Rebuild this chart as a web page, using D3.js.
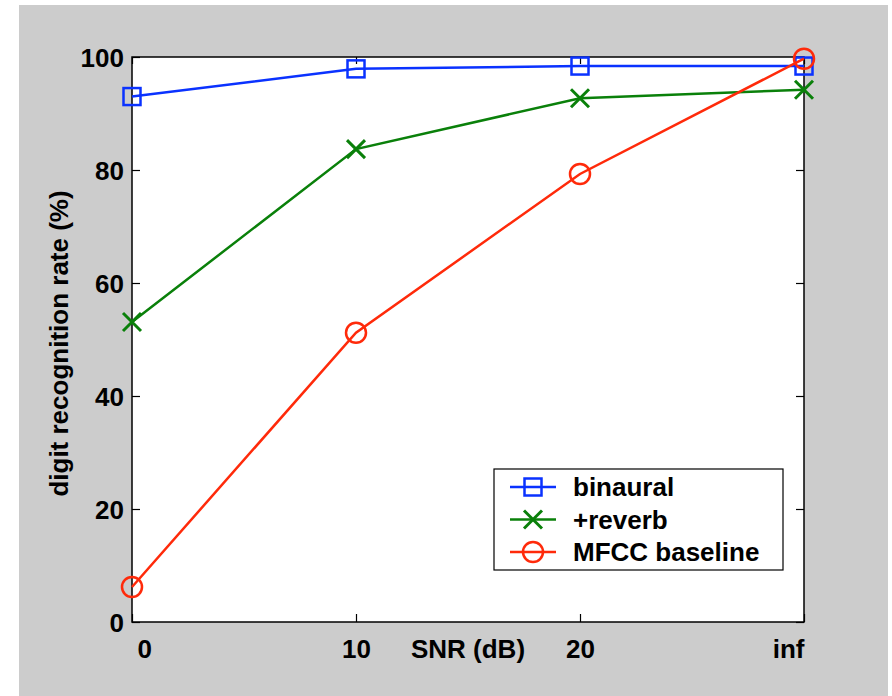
<!DOCTYPE html>
<html>
<head>
<meta charset="utf-8">
<script src="https://cdn.jsdelivr.net/npm/d3@7"></script>
<style>
  body { margin: 0; background: #fff; }
  text { font-family: "Liberation Sans", Arial, sans-serif; font-weight: bold; font-size: 26px; fill: #000; }
</style>
</head>
<body>
<div id="chart"></div>
<script>
// data
const snr = ["0", "10", "20", "inf"];
const binaural = [93.0, 97.9, 98.4, 98.4];
const reverb = [53.1, 83.7, 92.7, 94.2];
const mfcc = [6.2, 51.2, 79.3, 99.7];
const yTicks = [0, 20, 40, 60, 80, 100];
const seriesNames = ["binaural", "+reverb", "MFCC baseline"];

const W = 892, H = 696;
const margin = {top: 57, right: 88, bottom: 74, left: 132};
const width = W - margin.left - margin.right,
      height = H - margin.top - margin.bottom;

const svg = d3.select("#chart").append("svg")
    .attr("width", W)
    .attr("height", H);

// grey figure background
svg.append("rect")
    .attr("x", 19).attr("y", 5)
    .attr("width", 869).attr("height", 691)
    .attr("fill", "#cccccc");

const g = svg.append("g")
    .attr("transform", `translate(${margin.left},${margin.top})`);

g.append("rect")
    .attr("width", width).attr("height", height)
    .attr("fill", "#fff");

const x = d3.scalePoint().domain(snr).range([0, width]);
const y = d3.scaleLinear().domain([0, 100]).range([height, 0]);

// axes, ticks pointing inwards like matlab
const styleAxis = sel => {
  sel.select(".domain").remove();
  sel.selectAll(".tick line").attr("stroke", "#000").attr("stroke-width", 1.2);
  sel.selectAll("text").attr("font-size", null).attr("font-family", null);
};

g.append("g")
    .call(d3.axisLeft(y).tickValues(yTicks).tickSizeInner(-8).tickSizeOuter(0).tickPadding(8))
    .call(styleAxis)
    .selectAll("text").attr("dy", "0.36em");

g.append("g")
    .attr("transform", `translate(${width},0)`)
    .call(d3.axisRight(y).tickValues(yTicks).tickSizeInner(-8).tickSizeOuter(0).tickFormat(""))
    .call(styleAxis);

g.append("g")
    .call(d3.axisTop(x).tickSizeInner(-7).tickSizeOuter(0).tickFormat(""))
    .call(styleAxis);

const xAxis = g.append("g")
    .attr("transform", `translate(0,${height})`)
    .call(d3.axisBottom(x).tickSizeInner(-8).tickSizeOuter(0).tickPadding(18))
    .call(styleAxis);
xAxis.selectAll(".tick text")
    .attr("text-anchor", d => d === "0" ? "start" : d === "inf" ? "end" : "middle")
    .attr("dx", d => d === "0" ? 5 : 0);

// x label sits between 10 and 20
g.append("text")
    .attr("x", (x("10") + x("20")) / 2)
    .attr("y", height + 36)
    .attr("text-anchor", "middle")
    .text("SNR (dB)");

g.append("text")
    .attr("transform", `translate(${68 - margin.left},${height / 2 + 4}) rotate(-90)`)
    .attr("text-anchor", "middle")
    .text("digit recognition rate (%)");

// frame
g.append("rect")
    .attr("width", width).attr("height", height)
    .attr("fill", "none")
    .attr("stroke", "#000")
    .attr("stroke-width", 1.5);

const series = [
  {name: seriesNames[0], values: binaural, color: "#0a32ff", marker: "square"},
  {name: seriesNames[1], values: reverb, color: "#0a800a", marker: "cross"},
  {name: seriesNames[2], values: mfcc, color: "#ff2a0a", marker: "circle"}
];

function drawMarker(sel, type, color) {
  if (type === "square") {
    sel.append("rect")
      .attr("x", -8.5).attr("y", -8.5).attr("width", 17).attr("height", 17)
      .attr("fill", "none").attr("stroke", color).attr("stroke-width", 2.5);
  } else if (type === "circle") {
    sel.append("circle")
      .attr("r", 10)
      .attr("fill", "none").attr("stroke", color).attr("stroke-width", 2.5);
  } else {
    sel.append("path")
      .attr("d", "M-9,-9L9,9M-9,9L9,-9")
      .attr("fill", "none").attr("stroke", color).attr("stroke-width", 3);
  }
}

const line = d3.line().x((d, i) => x(snr[i])).y(d => y(d));

series.forEach(s => {
  g.append("path")
    .datum(s.values)
    .attr("d", line)
    .attr("fill", "none")
    .attr("stroke", s.color)
    .attr("stroke-width", 2.5);
  g.selectAll(null)
    .data(s.values)
    .join("g")
      .attr("transform", (d, i) => `translate(${x(snr[i])},${y(d)})`)
      .each(function() { drawMarker(d3.select(this), s.marker, s.color); });
});

// legend
const legend = g.append("g")
    .attr("transform", `translate(${494 - margin.left},${469 - margin.top})`);
legend.append("rect")
    .attr("width", 289).attr("height", 101)
    .attr("fill", "#fff")
    .attr("stroke", "#000")
    .attr("stroke-width", 1.2);

series.forEach((s, i) => {
  const row = legend.append("g").attr("transform", `translate(0,${18 + i * 32.5})`);
  row.append("line")
    .attr("x1", 16).attr("x2", 62)
    .attr("stroke", s.color).attr("stroke-width", 2.5);
  const m = row.append("g").attr("transform", "translate(39,0)");
  drawMarker(m, s.marker, s.color);
  row.append("text")
    .attr("x", 79).attr("dy", "0.36em")
    .text(s.name);
});
</script>
</body>
</html>
